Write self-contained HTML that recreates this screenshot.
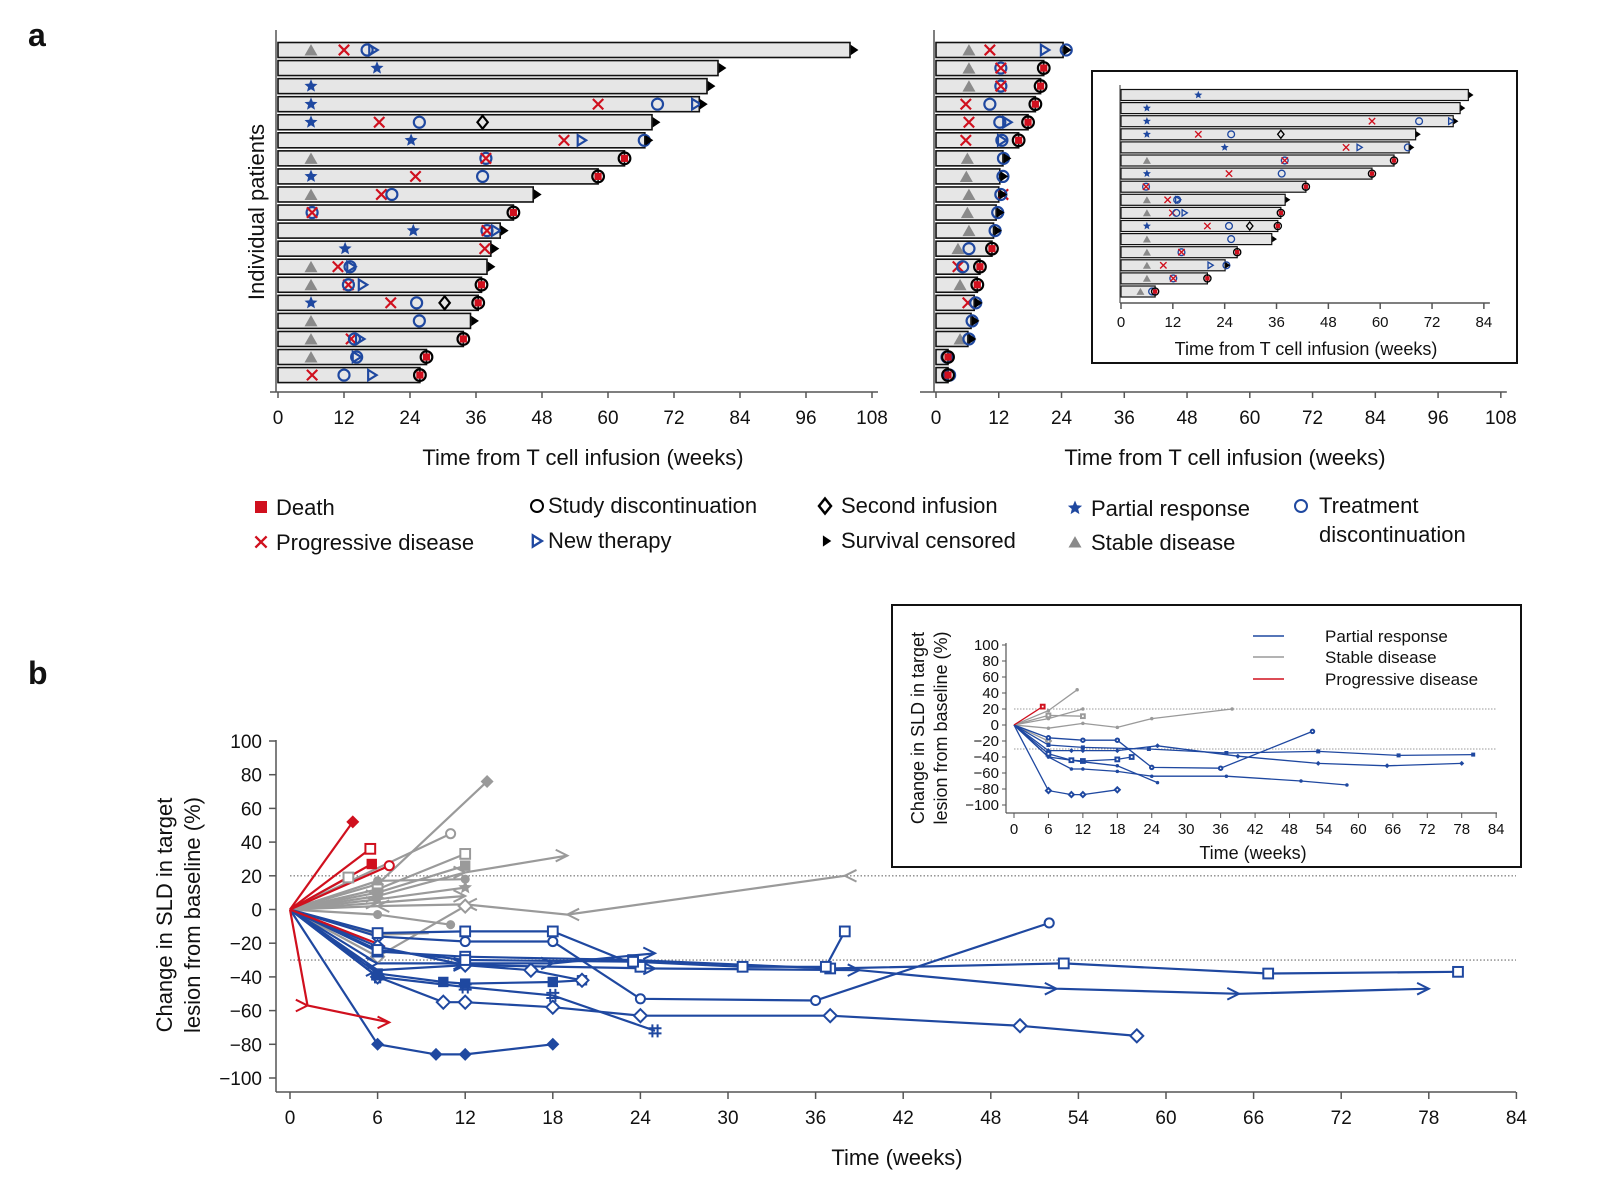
<!DOCTYPE html>
<html><head><meta charset="utf-8"><style>
html,body{margin:0;padding:0;background:#fff}
svg{display:block}
text{font-family:"Liberation Sans",sans-serif;fill:#111}
</style></head><body>
<svg id="s" width="1598" height="1200" viewBox="0 0 1598 1200" xmlns="http://www.w3.org/2000/svg"></svg>
<script>
const S=document.getElementById('s');let H='';
const RED='#d0101e',BLUE='#1f48a0',GR='#9a9a9a',TRI='#8a8a8a';
function t(x,y,s,fs,anc,extra){H+=`<text x="${x}" y="${y}" font-size="${fs}" text-anchor="${anc||'start'}" ${extra||''}>${s}</text>`;}
function star(x,y,r,c){let p=[];for(let i=0;i<10;i++){const a=-Math.PI/2+i*Math.PI/5,rr=i%2?r*0.45:r;p.push((x+rr*Math.cos(a)).toFixed(1)+','+(y+rr*Math.sin(a)).toFixed(1));}H+=`<polygon points="${p.join(' ')}" fill="${c}"/>`;}
function mk(tp,x,y,s,c){const h=s/2,sw=Math.max(1,s/6);
switch(tp){
case'tri':H+=`<polygon points="${x-h},${y+h*0.85} ${x+h},${y+h*0.85} ${x},${y-h*0.9}" fill="${TRI}"/>`;break;
case'x':H+=`<path d="M${x-h*.8},${y-h*.8}L${x+h*.8},${y+h*.8}M${x-h*.8},${y+h*.8}L${x+h*.8},${y-h*.8}" stroke="${RED}" stroke-width="${sw}"/>`;break;
case'O':H+=`<circle cx="${x}" cy="${y}" r="${h*.85}" fill="none" stroke="${BLUE}" stroke-width="${sw}"/>`;break;
case'rt':H+=`<polygon points="${x-h*.6},${y-h*.8} ${x+h*.7},${y} ${x-h*.6},${y+h*.8}" fill="none" stroke="${BLUE}" stroke-width="${sw}"/>`;break;
case'dia':H+=`<polygon points="${x},${y-h} ${x+h*.8},${y} ${x},${y+h} ${x-h*.8},${y}" fill="none" stroke="#000" stroke-width="${sw}"/>`;break;
case'star':star(x,y,h*1.05,BLUE);break;
case'cen':H+=`<polygon points="${x-h*.3},${y-h*.8} ${x+h*.9},${y} ${x-h*.3},${y+h*.8}" fill="#000"/>`;break;
case'death':H+=`<circle cx="${x}" cy="${y}" r="${h*.9}" fill="none" stroke="#000" stroke-width="${sw}"/><rect x="${x-h*.55}" y="${y-h*.55}" width="${h*1.1}" height="${h*1.1}" fill="${RED}"/>`;break;
case'bsq':H+=`<rect x="${x-h}" y="${y-h}" width="${s}" height="${s}" fill="${RED}"/>`;break;
}}
// ---- panel a ----
const L=[[104,'cen',[['tri',6],['x',12],['O',16.2],['rt',17.3]]],[80,'cen',[['star',18]]],[78,'cen',[['star',6]]],[76.6,'cen',[['star',6],['x',58.2],['O',69],['rt',76]]],
[68,'cen',[['star',6],['x',18.4],['O',25.7],['dia',37.2]]],[66.7,'cen',[['star',24.2],['x',52],['rt',55.2],['O',66.6]]],[63,'death',[['tri',6],['O',37.8],['x',37.8]]],
[58.2,'death',[['star',6],['x',25],['O',37.2]]],[46.4,'cen',[['tri',6],['x',18.8],['O',20.7]]],[42.8,'death',[['O',6.2],['x',6.2]]],[40.4,'cen',[['star',24.6],['O',38],['x',38],['rt',39.6]]],
[38.7,'cen',[['star',12.2],['x',37.6]]],[38,'cen',[['tri',6],['x',10.9],['O',13.1],['rt',13.3]]],[37,'death',[['tri',6],['x',12.8],['O',12.8],['rt',15.4]]],
[36.4,'death',[['star',6],['x',20.5],['O',25.2],['dia',30.3]]],[35,'cen',[['tri',6],['O',25.7]]],[33.7,'death',[['tri',6],['x',13.3],['O',13.9],['rt',14.9]]],
[27,'death',[['tri',6],['O',14.3],['rt',14.3]]],[25.8,'death',[['x',6.2],['O',12],['rt',17.1]]]];
const R=[[24.3,'cen',[['tri',6.3],['x',10.3],['rt',20.8],['O',24.9]]],[20.6,'death',[['tri',6.3],['O',12.4],['x',12.4]]],[20,'death',[['tri',6.3],['O',12.4],['x',12.4]]],
[19,'death',[['x',5.7],['O',10.3]]],[17.6,'death',[['x',6.3],['O',12.2],['rt',13.6]]],[15.8,'death',[['x',5.7],['O',12.6],['rt',12.6]]],[12.8,'cen',[['tri',6],['O',12.9]]],
[12.2,'cen',[['tri',5.8],['O',12.8]]],[12,'cen',[['tri',6.3],['x',12.8],['O',12.4]]],[11.5,'cen',[['tri',6],['O',11.8]]],[11,'cen',[['tri',6.3],['O',11.3]]],
[10.7,'death',[['tri',4.2],['O',6.3]]],[8.4,'death',[['x',4.2],['O',5.1]]],[7.9,'death',[['tri',4.6]]],[7.3,'cen',[['x',6.1],['O',7.6]]],[6.7,'cen',[['O',6.9]]],
[6.1,'cen',[['tri',4.6],['O',6.3]]],[2.3,'death',[['O',2.1]]],[2.3,'death',[['O',2.6]]]];
const I=[[80.4,'cen',[['star',17.9]]],[78.5,'cen',[['star',6]]],[76.9,'cen',[['star',6],['x',58.1],['O',69],['rt',76.4]]],[68.2,'cen',[['star',6],['x',17.9],['O',25.5],['dia',37]]],
[66.7,'cen',[['star',24],['x',52.1],['rt',55.2],['O',66.4]]],[63.2,'death',[['tri',6],['O',37.9],['x',37.9]]],[58.1,'death',[['star',6],['x',25],['O',37.2]]],
[42.8,'death',[['O',5.8],['x',5.8]]],[38,'cen',[['tri',6],['x',10.8],['O',13],['rt',13.2]]],[37,'death',[['tri',6],['x',11.9],['O',12.8],['rt',14.7]]],
[36.3,'death',[['star',6],['x',20],['O',25],['dia',29.8]]],[34.9,'cen',[['tri',6],['O',25.5]]],[26.9,'death',[['tri',6],['O',14],['x',14]]],
[24.1,'cen',[['tri',6],['x',9.8],['rt',20.7],['O',24.4]]],[20,'death',[['tri',6],['O',12.1],['x',12.1]]],[7.9,'death',[['tri',4.5],['O',7.2]]]];
function swim(data,x0,sc,y0,dy,bh,ms){data.forEach((r,i)=>{const y=y0+i*dy,xe=x0+r[0]*sc;
H+=`<rect x="${x0}" y="${y-bh/2}" width="${xe-x0}" height="${bh}" fill="#e6e6e6" stroke="#111" stroke-width="${ms>9?1.6:1.2}"/>`;
r[2].forEach(m=>mk(m[0],x0+m[1]*sc,y,ms));
if(r[1]=='cen')mk('cen',xe+ms*0.2,y,ms);else mk('death',xe,y,ms);});}
function xaxis(x0,sc,maxw,step,y,x1,fs,ly){H+=`<line x1="${x1}" y1="${y}" x2="${x0+maxw*sc+6}" y2="${y}" stroke="#555" stroke-width="1.5"/>`;
for(let w=0;w<=maxw;w+=step){const x=x0+w*sc;H+=`<line x1="${x}" y1="${y}" x2="${x}" y2="${y+6}" stroke="#555" stroke-width="1.5"/>`;t(x,ly,w,fs,'middle');}}
// left
H+=`<line x1="276" y1="30" x2="276" y2="392" stroke="#555" stroke-width="1.5"/>`;
swim(L,278,5.5,50,18.06,15,13);xaxis(278,5.5,108,12,392,270,19,424);
t(583,465,'Time from T cell infusion (weeks)',22,'middle');
t(264,212,'Individual patients',22,'middle','transform="rotate(-90 264 212)"');
// right
H+=`<line x1="934" y1="30" x2="934" y2="392" stroke="#555" stroke-width="1.5"/>`;
swim(R,936,5.23,50,18.06,15,13);xaxis(936,5.23,108,12,392,920,19,424);
t(1225,465,'Time from T cell infusion (weeks)',22,'middle');
// inset a
H+=`<rect x="1092" y="71" width="425" height="292" fill="#fff" stroke="#111" stroke-width="2"/>`;
H+=`<line x1="1120" y1="85" x2="1120" y2="303" stroke="#555" stroke-width="1.2"/>`;
swim(I,1121,4.32,95,13.1,11,8);xaxis(1121,4.32,84,12,303,1120,15,327);
t(1306,355,'Time from T cell infusion (weeks)',18,'middle');
t(28,46,'a',32,'start','font-weight="bold"');t(28,684,'b',32,'start','font-weight="bold"');
// legend
mk('bsq',261,507,12);t(276,515,'Death',22);
mk('x',261,542,14);t(276,550,'Progressive disease',22);
H+=`<circle cx="537" cy="506" r="6" fill="none" stroke="#000" stroke-width="2"/>`;t(548,513,'Study discontinuation',22);
mk('rt',537,541,14);t(548,548,'New therapy',22);
mk('dia',825,506,15);t(841,513,'Second infusion',22);
mk('cen',825,541,14);t(841,548,'Survival censored',22);
star(1075,508,7.5,BLUE);t(1091,516,'Partial response',22);
mk('tri',1075,542,13);t(1091,550,'Stable disease',22);
H+=`<circle cx="1301" cy="506" r="6" fill="none" stroke="${BLUE}" stroke-width="2"/>`;t(1319,513,'Treatment',22);t(1319,542,'discontinuation',22);
// ---- panel b ----
function bmark(tp,x,y,s,c){const h=s/2;switch(tp){
case'fd':H+=`<polygon points="${x},${y-h} ${x+h},${y} ${x},${y+h} ${x-h},${y}" fill="${c}"/>`;break;
case'od':H+=`<polygon points="${x},${y-h} ${x+h},${y} ${x},${y+h} ${x-h},${y}" fill="#fff" stroke="${c}" stroke-width="2"/>`;break;
case'fs':H+=`<rect x="${x-h*.8}" y="${y-h*.8}" width="${s*.8}" height="${s*.8}" fill="${c}"/>`;break;
case'os':H+=`<rect x="${x-h*.75}" y="${y-h*.75}" width="${s*.75}" height="${s*.75}" fill="#fff" stroke="${c}" stroke-width="2"/>`;break;
case'fc':H+=`<circle cx="${x}" cy="${y}" r="${h*.7}" fill="${c}"/>`;break;
case'oc':H+=`<circle cx="${x}" cy="${y}" r="${h*.7}" fill="#fff" stroke="${c}" stroke-width="2"/>`;break;
case'ar':H+=`<path d="M${x-s*.9},${y-s*.45}L${x},${y}L${x-s*.9},${y+s*.45}" fill="none" stroke="${c}" stroke-width="2"/>`;break;
case'al':H+=`<path d="M${x+s*.9},${y-s*.45}L${x},${y}L${x+s*.9},${y+s*.45}" fill="none" stroke="${c}" stroke-width="2"/>`;break;
case'st':star(x,y,h*1.1,c);break;
case'as':H+=`<path d="M${x-h},${y-h*.4}H${x+h}M${x-h},${y+h*.4}H${x+h}M${x-h*.4},${y-h}V${y+h}M${x+h*.4},${y-h}V${y+h}" stroke="${c}" stroke-width="2"/>`;break;
}}
function plot(ser,X,Y,s,lw){ser.forEach(sr=>{const c=sr[0],pts=sr[2];
H+=`<polyline points="${pts.map(p=>X(p[0]).toFixed(1)+','+Y(p[1]).toFixed(1)).join(' ')}" fill="none" stroke="${c}" stroke-width="${lw}"/>`;});
ser.forEach(sr=>{const c=sr[0];sr[2].forEach((p,i)=>{if(i>0&&sr[1])bmark(sr[1],X(p[0]),Y(p[1]),s,c);});});}
const G=GR,B=BLUE,Rr=RED;
const mainS=[
[G,'fd',[[0,0],[6,15],[13.5,76]]],[G,'oc',[[0,0],[11,45]]],[G,'os',[[0,0],[6,12],[12,33]]],[G,'fs',[[0,0],[6,10],[12,26]]],
[G,'ar',[[0,0],[6,8],[12,22],[19,32]]],[G,'st',[[0,0],[6,6],[12,13]]],[G,'ar',[[0,0],[6,4],[12,8]]],[G,'fc',[[0,0],[6,17],[12,18]]],
[G,'al',[[0,0],[6,2],[12,3],[19,-3],[38,20]]],[G,'fc',[[0,0],[6,-3],[11,-9]]],[G,'od',[[0,0],[6,-28],[12,2]]],[G,'os',[[0,0],[4,19]]],[G,'',[[0,0],[6,-15],[9.5,-14]]],
[B,'oc',[[0,0],[6,-16],[12,-19],[18,-19],[24,-53],[36,-54],[52,-8]]],
[B,'os',[[0,0],[6,-25],[12,-28],[23.5,-30],[37,-35],[53,-32],[67,-38],[80,-37]]],
[B,'ar',[[0,0],[6,-32],[12,-32],[18,-32],[25,-26]]],
[B,'ar',[[0,0],[6,-36],[12,-33],[25,-35],[39,-36],[52.5,-47],[65,-50],[78,-47]]],
[B,'od',[[0,0],[6,-40],[10.5,-55],[12,-55],[18,-58],[24,-63],[37,-63],[50,-69],[58,-75]]],
[B,'fs',[[0,0],[6,-38],[10.5,-43],[12,-44],[18,-43],[20,-42]]],
[B,'as',[[0,0],[6,-40],[12,-46],[18,-51],[25,-72]]],
[B,'fd',[[0,0],[6,-80],[10,-86],[12,-86],[18,-80]]],
[B,'os',[[0,0],[6,-14],[12,-13],[18,-13],[24,-34]]],
[B,'od',[[0,0],[6,-22],[12,-33],[16.5,-36],[20,-42]]],
[B,'os',[[0,0],[6,-24],[12,-30],[23.5,-31],[31,-34],[36.7,-34],[38,-13]]],
[Rr,'fd',[[0,0],[4.3,52]]],[Rr,'os',[[0,0],[5.5,36]]],[Rr,'fs',[[0,0],[5.6,27]]],[Rr,'oc',[[0,0],[6.8,26]]],[Rr,'',[[0,0],[6.5,-22]]],[Rr,'ar',[[0,0],[1.2,-57],[6.8,-67]]]];
const MX=w=>290+w*14.6,MY=p=>909.5-p*1.685;
H+=`<line x1="276" y1="740" x2="276" y2="1092" stroke="#555" stroke-width="1.5"/>`;
for(let p=-100;p<=100;p+=20){H+=`<line x1="269" y1="${MY(p)}" x2="276" y2="${MY(p)}" stroke="#555" stroke-width="1.5"/>`;t(262,MY(p)+7,p<0?'−'+(-p):p,19,'end');}
H+=`<line x1="276" y1="1092" x2="1516" y2="1092" stroke="#555" stroke-width="1.5"/>`;
for(let w=0;w<=84;w+=6){H+=`<line x1="${MX(w)}" y1="1092" x2="${MX(w)}" y2="1099" stroke="#555" stroke-width="1.5"/>`;t(MX(w),1124,w,19,'middle');}
[20,-30].forEach(p=>H+=`<line x1="290" y1="${MY(p)}" x2="1516" y2="${MY(p)}" stroke="#888" stroke-width="1.3" stroke-dasharray="1.5,2"/>`);
plot(mainS,MX,MY,13,2.2);
t(897,1165,'Time (weeks)',22,'middle');
t(172,915,'Change in SLD in target',22,'middle','transform="rotate(-90 172 915)"');
t(200,915,'lesion from baseline (%)',22,'middle','transform="rotate(-90 200 915)"');
// inset b
H+=`<rect x="892" y="605" width="629" height="262" fill="#fff" stroke="#111" stroke-width="2"/>`;
const IX=w=>1014+w*5.74,IY=p=>725-p*0.8;
H+=`<line x1="1006" y1="643" x2="1006" y2="813" stroke="#555" stroke-width="1.2"/>`;
for(let p=-100;p<=100;p+=20){H+=`<line x1="1002" y1="${IY(p)}" x2="1006" y2="${IY(p)}" stroke="#555"/>`;t(999,IY(p)+5,p<0?'−'+(-p):p,15,'end');}
H+=`<line x1="1006" y1="813" x2="1497" y2="813" stroke="#555" stroke-width="1.2"/>`;
for(let w=0;w<=84;w+=6){H+=`<line x1="${IX(w)}" y1="813" x2="${IX(w)}" y2="818" stroke="#555"/>`;t(IX(w),834,w,15,'middle');}
[20,-30].forEach(p=>H+=`<line x1="1014" y1="${IY(p)}" x2="1496" y2="${IY(p)}" stroke="#999" stroke-dasharray="1.5,1.5"/>`);
const inS=[[G,'fc',[[0,0],[6,18],[11,44]]],[G,'fc',[[0,0],[6,8],[12,20]]],[G,'os',[[0,0],[6,12],[12,11]]],[G,'fc',[[0,0],[6,-4],[12,2],[18,-3],[24,8],[38,20]]],[G,'od',[[0,0],[6,-20]]],
[B,'oc',[[0,0],[6,-16],[12,-19],[18,-19],[24,-53],[36,-54],[52,-8]]],[B,'fs',[[0,0],[6,-25],[12,-28],[23.5,-30],[37,-35],[53,-33],[67,-38],[80,-37]]],
[B,'fd',[[0,0],[6,-32],[10,-32],[12,-32],[18,-32],[25,-26],[39,-39],[53,-48],[65,-51],[78,-48]]],[B,'fc',[[0,0],[6,-40],[10,-55],[12,-55],[18,-58],[24,-64],[37,-64],[50,-70],[58,-75]]],
[B,'os',[[0,0],[6,-36],[10,-44],[12,-45],[18,-43],[20.5,-40]]],[B,'fc',[[0,0],[6,-40],[12,-46],[18,-51],[25,-72]]],[B,'od',[[0,0],[6,-82],[10,-87],[12,-87],[18,-81]]],
[Rr,'os',[[0,0],[5,23]]]];
plot(inS,IX,IY,5,1.3);
t(1253,859,'Time (weeks)',18,'middle');
t(924,728,'Change in SLD in target',18,'middle','transform="rotate(-90 924 728)"');
t(947,728,'lesion from baseline (%)',18,'middle','transform="rotate(-90 947 728)"');
[['Partial response',B,636],['Stable disease',G,657],['Progressive disease',Rr,679]].forEach(l=>{H+=`<line x1="1253" y1="${l[2]}" x2="1284" y2="${l[2]}" stroke="${l[1]}" stroke-width="1.5"/>`;t(1325,l[2]+6,l[0],17);});
S.innerHTML=H;
</script>
</body></html>
